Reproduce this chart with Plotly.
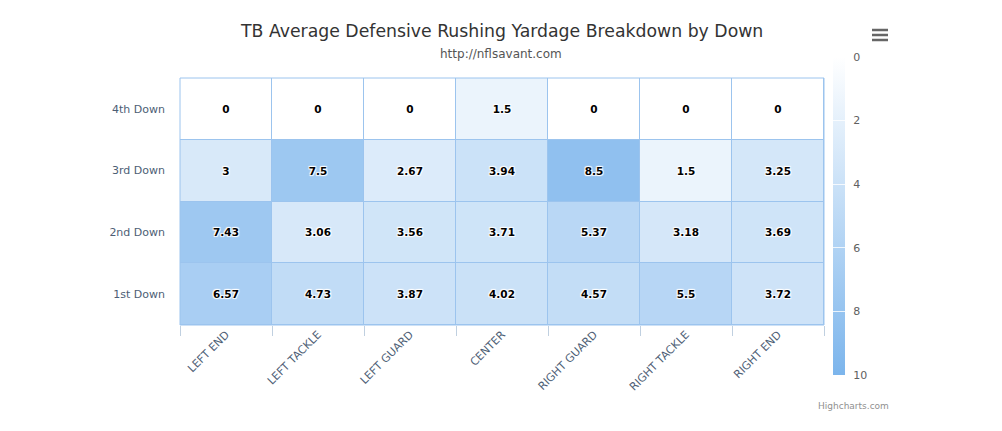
import plotly.graph_objects as go

positions = ["LEFT END", "LEFT TACKLE", "LEFT GUARD", "CENTER", "RIGHT GUARD", "RIGHT TACKLE", "RIGHT END"]
downs = ["1st Down", "2nd Down", "3rd Down", "4th Down"]
first_down = [6.57, 4.73, 3.87, 4.02, 4.57, 5.5, 3.72]
second_down = [7.43, 3.06, 3.56, 3.71, 5.37, 3.18, 3.69]
third_down = [3, 7.5, 2.67, 3.94, 8.5, 1.5, 3.25]
fourth_down = [0, 0, 0, 1.5, 0, 0, 0]
color_ticks = [0, 2, 4, 6, 8, 10]

rows = [first_down, second_down, third_down, fourth_down]
# colorbar runs 0 (top) to 10 (bottom): map values onto negated scale
zneg = [[-v for v in r] for r in rows]
text = [[("%g" % v) for v in r] for r in rows]

fig = go.Figure()
fig.add_trace(go.Heatmap(
    x=positions, y=downs, z=zneg, text=text, texttemplate="%{text}",
    textfont=dict(family="DejaVu Sans", size=10.5, color="#000000", weight="bold",
                  shadow="1px 1px 1px white, -1px -1px 1px white, 1px -1px 1px white, -1px 1px 1px white"),
    zmin=-10, zmax=0,
    colorscale=[[0, "#7cb5ec"], [1, "#ffffff"]],
    xgap=1, ygap=1, hoverinfo="skip",
    colorbar=dict(
        x=1.014, xanchor="left", y=1.085, yanchor="top",
        lenmode="pixels", len=318, thickness=12, outlinewidth=0,
        tickvals=[-t for t in color_ticks], ticktext=["\u2002" + str(t) for t in color_ticks],
        ticks="inside", ticklen=12, tickcolor="rgba(255,255,255,0.8)",
        tickfont=dict(family="DejaVu Sans", size=11, color="#606060"),
        xpad=0, ypad=0,
    ),
))

fig.update_layout(
    width=986, height=415,
    margin=dict(l=172, r=170, t=70, b=98),
    paper_bgcolor="white", plot_bgcolor="#9cc4ee",
    font=dict(family="DejaVu Sans"),
    xaxis=dict(tickangle=-45, ticks="outside", tickson="boundaries", ticklen=10,
               tickcolor="#C0D0E0", showgrid=False, zeroline=False,
               tickfont=dict(size=11, color="#4d5e75")),
    yaxis=dict(showgrid=False, zeroline=False, ticks="", ticklabelstandoff=14,
               tickfont=dict(size=11, color="#4d5e75")),
    shapes=[
        dict(type="rect", xref="paper", yref="paper", x0=0, x1=1, y0=0, y1=1,
             line=dict(color="#9cc4ee", width=1)),
    ] + [
        dict(type="line", xref="paper", yref="paper", x0=(872 - 180) / 644, x1=(888 - 180) / 644,
             y0=(325 - yy) / 247, y1=(325 - yy) / 247, line=dict(color="#666666", width=2.5))
        for yy in (30, 35, 40)
    ],
    annotations=[
        dict(text="TB Average Defensive Rushing Yardage Breakdown by Down", xref="paper", yref="paper",
             x=(501 - 180) / 644, y=(325 - 31) / 247, xanchor="center", yanchor="middle", showarrow=False,
             font=dict(size=17.3, color="#333333")),
        dict(text="http://nflsavant.com", xref="paper", yref="paper",
             x=(501 - 180) / 644, y=(325 - 54) / 247, xanchor="center", yanchor="middle", showarrow=False,
             font=dict(size=12, color="#555555")),
        dict(text="Highcharts.com", xref="paper", yref="paper",
             x=(891 - 180) / 644, y=(325 - 406) / 247, xanchor="right", yanchor="middle", showarrow=False,
             font=dict(size=9, color="#909090")),
    ],
)

fig.write_html("out.html")
